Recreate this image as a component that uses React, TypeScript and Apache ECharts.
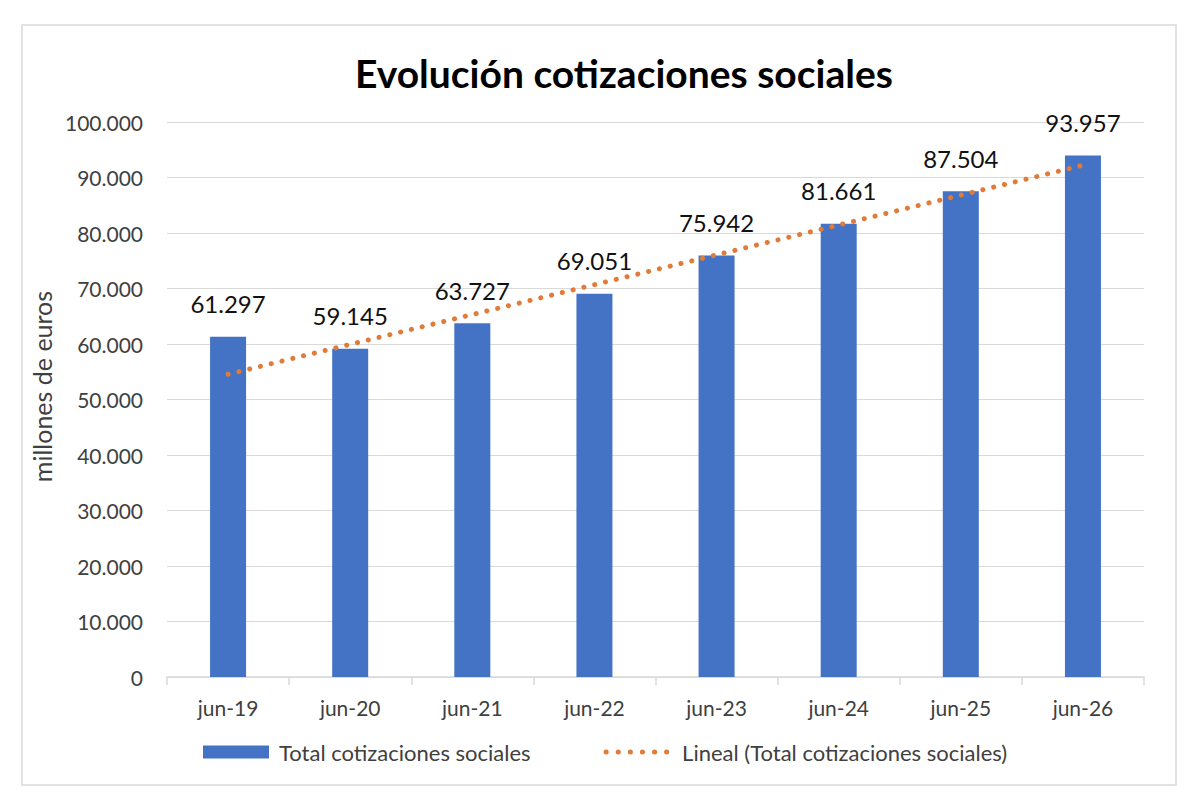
import React, { useEffect, useRef } from "react";
import * as echarts from "echarts";

const categories = ["jun-19", "jun-20", "jun-21", "jun-22", "jun-23", "jun-24", "jun-25", "jun-26"];
const totalCotizaciones = [61297, 59145, 63727, 69051, 75942, 81661, 87504, 93957];
// Trend line end points (first and last category)
const trendValues = [54550, null, null, null, null, null, null, 92200];
const yTicks = { min: 0, max: 100000, interval: 10000 };

const FONT = "Lato, 'Open Sans', sans-serif";
const TREND_COLOR = "#E07B39";

const fmt = (v: number) =>
  Math.round(v)
    .toString()
    .replace(/\B(?=(\d{3})+(?!\d))/g, ".");

export default function App() {
  const ref = useRef<HTMLDivElement>(null);

  useEffect(() => {
    if (!ref.current) return;
    const chart = echarts.init(ref.current, undefined, { renderer: "svg" });
    chart.setOption({
      animation: false,
      backgroundColor: "#ffffff",
      textStyle: { fontFamily: FONT },
      title: {
        text: "Evolución cotizaciones sociales",
        left: 355,
        top: 53,
        padding: 0,
        textStyle: { fontFamily: FONT, fontSize: 39, fontWeight: "bold", color: "#000000" },
      },
      graphic: [
        {
          type: "rect",
          shape: { x: 22, y: 25, width: 1154, height: 760 },
          style: { fill: "none", stroke: "#d9d9d9", lineWidth: 1.5 },
          silent: true,
          z: -10,
        },
      ],
      legend: {
        left: 203,
        top: 741,
        padding: 0,
        itemWidth: 66,
        itemHeight: 13,
        itemGap: 73,
        textStyle: { fontFamily: FONT, fontSize: 22, color: "#404040", padding: [0, 0, 0, 5] },
        data: [
          { name: "Total cotizaciones sociales", icon: "rect" },
          {
            name: "Lineal (Total cotizaciones sociales)",
            itemStyle: { opacity: 0 },
            lineStyle: { color: TREND_COLOR, width: 5, type: [0.1, 12], cap: "round", opacity: 1 },
          },
        ],
      },
      grid: { left: 167, right: 56, top: 122, bottom: 123, containLabel: false },
      xAxis: {
        type: "category",
        data: categories,
        boundaryGap: true,
        axisLine: { show: true, lineStyle: { color: "#d9d9d9", width: 1.5 } },
        axisTick: { show: true, length: 8, lineStyle: { color: "#d9d9d9", width: 1.5 } },
        axisLabel: { fontFamily: FONT, fontSize: 21, color: "#404040", margin: 20 },
      },
      yAxis: {
        type: "value",
        min: yTicks.min,
        max: yTicks.max,
        interval: yTicks.interval,
        name: "millones de euros",
        nameLocation: "middle",
        nameGap: 95,
        nameTextStyle: { fontFamily: FONT, fontSize: 25, color: "#404040", padding: [0, 0, 0, 26] },
        axisLine: { show: false },
        axisTick: { show: false },
        splitLine: { lineStyle: { color: "#d9d9d9", width: 1.2 } },
        axisLabel: {
          fontFamily: FONT,
          fontSize: 21,
          color: "#404040",
          margin: 24,
          formatter: (v: number) => fmt(v),
        },
      },
      series: [
        {
          name: "Total cotizaciones sociales",
          type: "bar",
          data: totalCotizaciones,
          barWidth: 36,
          itemStyle: { color: "#4472C4" },
          label: {
            show: true,
            position: "top",
            distance: 21,
            fontFamily: FONT,
            fontSize: 24,
            color: "#111111",
            formatter: (p: any) => fmt(p.value),
          },
        },
        {
          name: "Lineal (Total cotizaciones sociales)",
          type: "line",
          data: trendValues,
          connectNulls: true,
          symbol: "none",
          itemStyle: { color: TREND_COLOR },
          lineStyle: { color: TREND_COLOR, width: 5, type: [0.1, 11], cap: "round" },
          z: 5,
        },
      ],
    });
    return () => chart.dispose();
  }, []);

  return (
    <div
      ref={ref}
      style={{ position: "absolute", left: 0, top: 0, width: 1200, height: 800 }}
    />
  );
}
